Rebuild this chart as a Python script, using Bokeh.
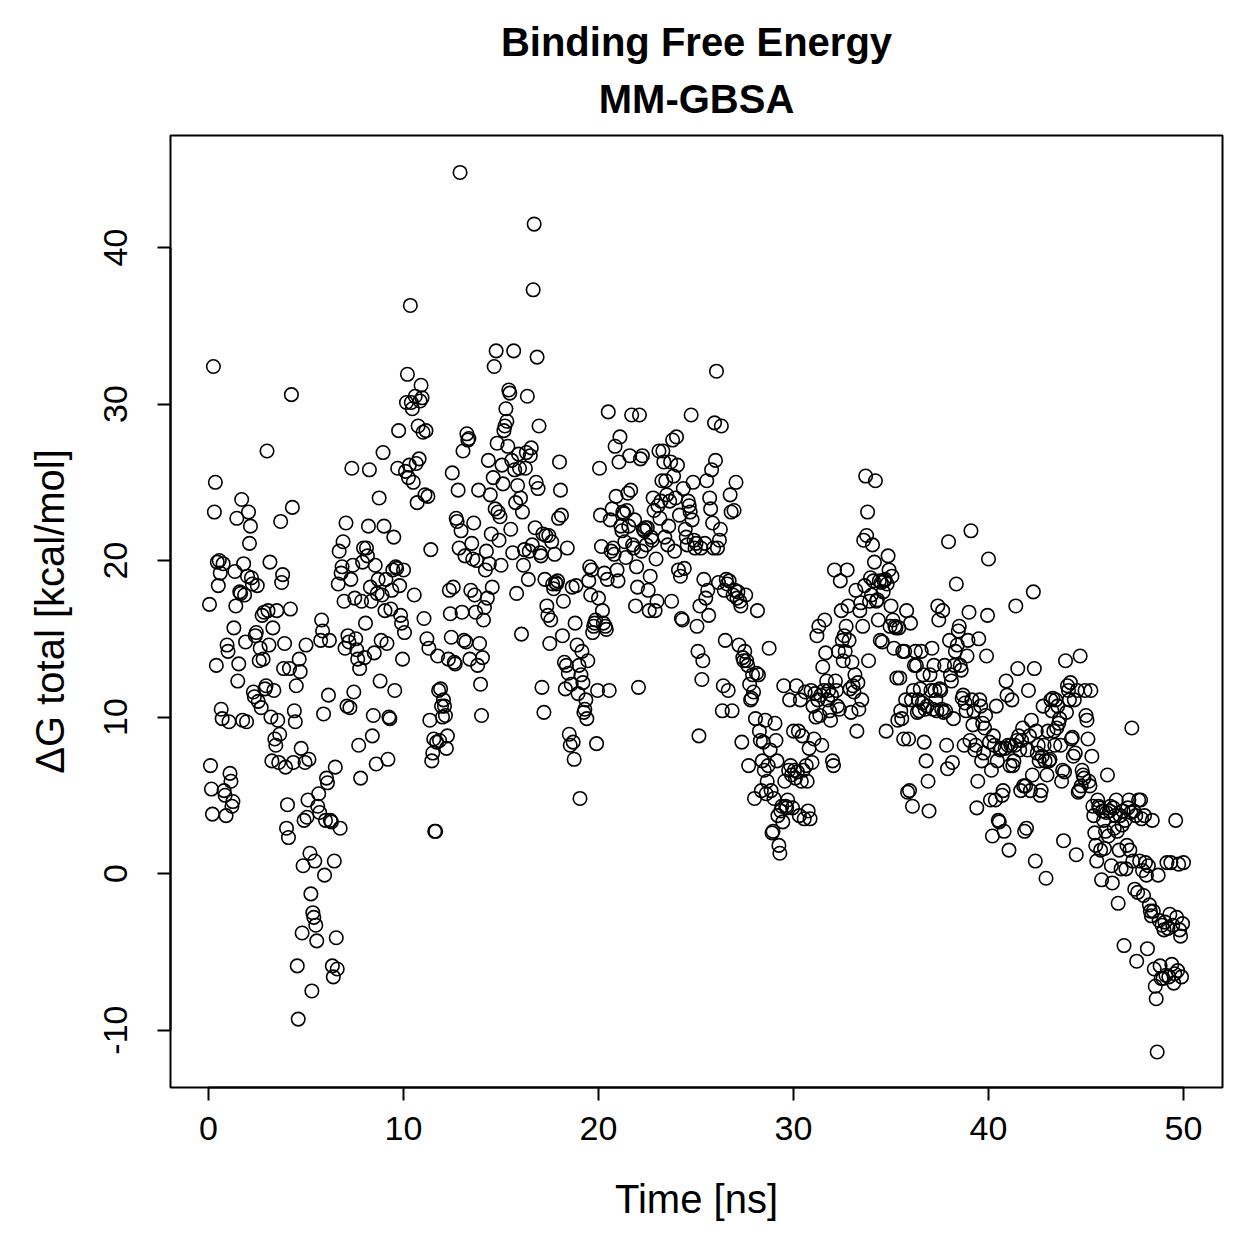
from bokeh.plotting import figure
from bokeh.models import Range1d, FixedTicker, Title
from bokeh.embed import file_html
from bokeh.resources import INLINE

# MM-GBSA binding free energy per frame, grouped by nanosecond (20 frames / ns, 0.05 ns step)
dg_ns = [
    [17.2, 6.9, 5.4, 3.8, 32.4, 23.1, 25.0, 13.3, 19.9, 18.4, 20.0, 19.2, 10.5, 9.9, 19.8, 5.3, 5.0, 3.7, 14.6, 14.2],
    [9.7, 6.4, 5.9, 4.3, 4.6, 15.7, 19.3, 17.1, 22.7, 12.3, 13.4, 18.0, 17.9, 23.9, 9.8, 19.8, 17.8, 14.8, 9.7, 19.0],
    [23.1, 21.1, 22.2, 18.9, 18.5, 11.6, 11.3, 15.2, 15.4, 18.4, 11.0, 13.6, 14.4, 10.6, 16.5, 13.7, 16.7, 11.8, 12.0, 27.0],
    [16.8, 14.6, 19.9, 10.0, 7.2, 15.7, 11.7, 8.6, 8.2, 16.8, 9.8, 7.1, 8.9, 22.5, 18.6, 19.1, 13.1, 14.7, 6.8, 2.9],
    [4.4, 2.3, 13.1, 16.9, 30.6, 23.4, 7.1, 10.4, 9.7, 12.0, -5.9, -9.3, 13.7, 12.9, 8.0, -3.8, 0.5, 3.4, 7.1, 14.6],
    [3.6, 4.7, 7.3, 1.3, -1.3, -7.5, -2.5, -2.8, 0.8, -3.3, -4.3, 4.3, 5.1, 3.9, 14.9, 16.2, 15.5, 10.2, -0.1, 3.4],
    [6.1, 5.8, 11.4, 14.9, 3.4, 3.3, -5.9, -6.6, 0.8, 6.8, -4.1, -6.1, 18.5, 20.6, 2.9, 19.2, 19.6, 21.2, 17.4, 14.4],
    [22.4, 10.7, 15.2, 14.8, 10.6, 18.8, 25.9, 19.7, 11.6, 17.6, 15.0, 14.3, 13.7, 8.2, 13.1, 6.1, 17.4, 19.9, 20.8, 13.8],
    [16.0, 20.8, 20.3, 22.2, 25.8, 18.3, 17.4, 8.8, 10.1, 14.1, 19.7, 7.0, 17.9, 18.8, 24.0, 12.3, 14.9, 17.8, 26.9, 22.2],
    [16.8, 18.8, 14.7, 7.3, 10.0, 9.9, 16.9, 18.1, 19.4, 21.5, 11.7, 19.6, 19.5, 25.9, 28.3, 18.4, 16.5, 16.0, 13.7, 19.4],
    [15.4, 25.7, 30.1, 31.9, 25.3, 26.1, 36.3, 30.1, 29.7, 25.0, 17.8, 30.5, 26.2, 23.7, 28.6, 26.5, 30.2, 31.2, 30.4, 28.2],
    [16.3, 24.2, 28.3, 15.0, 24.1, 14.4, 9.8, 20.7, 7.2, 7.7, 8.6, 2.7, 2.7, 8.4, 13.9, 11.7, 8.5, 11.8, 10.7, 10.0],
    [11.1, 10.7, 10.1, 8.0, 8.8, 13.7, 18.1, 16.6, 15.1, 25.6, 18.3, 13.5, 13.4, 22.7, 22.5, 24.5, 20.8, 44.8, 21.9, 16.7],
    [27.0, 14.9, 20.3, 14.8, 28.1, 27.7, 27.8, 13.7, 18.1, 21.1, 20.1, 22.4, 17.8, 16.7, 20.0, 13.3, 24.5, 14.7, 12.1, 10.1],
    [13.8, 16.2, 17.0, 19.4, 20.6, 17.6, 26.4, 19.8, 24.2, 21.7, 18.3, 25.3, 32.4, 23.3, 33.4, 27.5, 23.1, 21.3, 22.8, 19.7],
    [26.1, 24.9, 28.3, 28.6, 29.7, 28.9, 27.3, 30.9, 30.7, 22.0, 26.4, 20.5, 33.4, 25.8, 23.7, 17.9, 24.8, 26.8, 25.9, 24.0],
    [15.3, 23.1, 19.7, 20.7, 25.9, 26.9, 30.5, 18.8, 20.6, 26.7, 27.2, 21.0, 37.3, 41.5, 22.1, 25.0, 33.0, 24.6, 28.6, 20.5],
    [20.3, 11.9, 21.7, 10.3, 18.8, 21.6, 17.1, 16.5, 21.6, 14.7, 16.2, 21.2, 18.5, 18.2, 20.4, 18.6, 18.5, 18.7, 22.7, 26.3],
    [24.5, 22.9, 15.2, 17.4, 13.5, 11.8, 13.3, 20.8, 12.8, 8.9, 8.2, 12.1, 18.3, 8.4, 7.3, 16.0, 18.4, 14.6, 11.5, 13.3],
    [4.8, 12.7, 14.2, 12.2, 10.3, 10.5, 11.1, 9.9, 13.6, 18.7, 19.6, 17.8, 19.4, 15.4, 15.8, 16.0, 16.2, 8.3, 11.7, 17.6],
    [25.9, 22.9, 20.9, 16.8, 16.0, 19.2, 15.8, 15.6, 18.8, 29.5, 11.7, 22.6, 20.6, 23.3, 20.8, 20.4, 27.3, 24.1, 19.4, 18.7],
    [26.3, 27.9, 22.2, 21.9, 23.1, 23.0, 21.2, 20.2, 23.2, 24.3, 22.2, 26.7, 24.5, 29.3, 21.0, 20.8, 22.6, 17.1, 19.6, 18.3],
    [11.9, 29.3, 26.5, 20.6, 26.7, 22.0, 21.9, 22.1, 21.0, 22.1, 18.1, 16.8, 19.0, 21.5, 21.3, 24.0, 23.2, 16.8, 20.1, 17.4],
    [23.5, 27.0, 22.7, 23.8, 25.1, 27.0, 26.3, 21.5, 25.1, 24.2, 21.0, 22.2, 23.8, 26.3, 17.4, 27.7, 25.4, 20.6, 24.0, 27.9],
    [26.1, 19.4, 22.9, 19.0, 16.3, 16.2, 24.6, 19.5, 22.0, 21.5, 21.0, 23.8, 23.5, 23.1, 29.3, 22.6, 25.0, 21.3, 20.8, 21.1],
    [15.8, 14.2, 8.8, 17.1, 20.8, 12.4, 13.6, 18.8, 21.1, 17.6, 25.1, 18.1, 16.5, 24.0, 23.3, 25.8, 22.4, 20.8, 28.8, 26.4],
    [32.1, 20.8, 18.6, 21.3, 22.0, 28.6, 10.4, 12.0, 18.1, 14.9, 18.8, 18.5, 11.7, 18.7, 24.2, 23.1, 10.4, 17.8, 23.2, 18.1],
    [25.0, 17.6, 18.0, 14.6, 17.4, 17.1, 8.4, 13.8, 13.6, 14.2, 17.8, 13.6, 13.3, 6.9, 12.1, 11.1, 11.2, 12.7, 11.6, 4.8],
    [9.9, 12.8, 16.8, 12.7, 9.1, 8.5, 5.3, 7.2, 8.4, 6.6, 9.8, 5.1, 5.9, 6.9, 14.4, 7.9, 5.3, 2.6, 2.7, 4.8],
    [9.6, 8.5, 7.2, 3.7, 1.8, 1.3, 4.0, 4.3, 3.3, 12.0, 5.9, 4.3, 4.2, 4.7, 6.6, 11.1, 6.9, 6.3, 4.2, 9.1],
    [6.6, 6.1, 12.0, 6.5, 9.1, 3.7, 11.1, 5.9, 8.8, 6.6, 3.5, 11.6, 6.9, 5.9, 4.0, 8.0, 3.5, 11.7, 7.1, 10.7],
    [8.6, 11.5, 10.0, 15.2, 11.1, 15.8, 10.1, 11.4, 8.2, 13.2, 11.7, 16.2, 14.1, 12.3, 11.1, 11.7, 10.4, 9.8, 11.4, 7.2],
    [6.9, 19.4, 12.3, 11.7, 10.7, 14.2, 10.5, 18.7, 16.8, 14.9, 13.6, 15.2, 14.2, 15.8, 19.4, 17.1, 14.9, 11.8, 10.3, 13.5],
    [12.0, 11.6, 12.7, 18.1, 9.1, 12.2, 10.5, 16.8, 17.3, 11.1, 15.8, 21.3, 18.4, 25.4, 21.6, 23.1, 13.6, 17.4, 18.9, 17.8],
    [21.0, 18.7, 19.9, 25.1, 17.4, 17.5, 16.2, 18.7, 14.9, 18.6, 14.8, 18.0, 18.7, 18.8, 9.1, 18.5, 20.3, 19.4, 15.8, 17.1],
    [19.0, 16.2, 14.4, 15.8, 15.7, 12.5, 9.8, 15.7, 12.5, 10.4, 9.9, 14.2, 8.6, 14.2, 11.1, 16.8, 5.2, 8.6, 5.3, 16.0],
    [11.1, 4.3, 11.7, 13.3, 14.2, 13.3, 10.3, 11.1, 10.4, 11.8, 14.2, 10.9, 12.7, 8.4, 10.5, 7.2, 10.7, 5.9, 4.0, 12.7],
    [11.7, 14.4, 10.5, 13.3, 11.7, 11.1, 10.4, 17.1, 16.2, 11.8, 11.7, 10.5, 16.8, 10.3, 13.3, 10.4, 8.2, 6.7, 21.2, 14.9],
    [12.7, 12.3, 7.1, 9.9, 13.3, 14.2, 18.5, 14.6, 15.5, 15.8, 13.3, 13.0, 11.2, 11.4, 8.2, 10.9, 10.4, 13.9, 14.9, 16.7],
    [8.5, 21.9, 11.1, 9.5, 10.4, 7.9, 8.2, 4.2, 5.9, 15.0, 11.1, 10.7, 7.2, 9.6, 7.7, 9.3, 10.1, 13.9, 16.5, 20.1],
    [8.4, 4.7, 6.6, 2.4, 8.8, 8.2, 4.7, 10.7, 7.2, 3.4, 3.3, 7.9, 8.0, 5.0, 5.3, 2.7, 8.0, 12.3, 11.4, 8.2],
    [1.5, 6.9, 8.2, 11.1, 6.9, 7.2, 8.2, 17.1, 8.5, 13.1, 8.8, 7.9, 5.3, 8.5, 9.3, 5.6, 2.7, 5.6, 2.9, 7.9],
    [11.7, 8.8, 5.3, 9.8, 6.3, 18.0, 13.1, 0.8, 9.1, 7.7, 8.2, 7.2, 5.0, 5.3, 7.5, 10.7, 8.2, 7.2, -0.3, 6.3],
    [9.1, 7.2, 7.3, 11.1, 10.4, 11.2, 9.1, 8.2, 11.1, 9.3, 10.7, 9.6, 9.9, 8.2, 5.9, 6.6, 2.1, 6.5, 13.6, 10.3],
    [12.0, 11.7, 11.1, 12.2, 8.6, 8.7, 7.5, 11.1, 7.7, 1.2, 11.7, 5.2, 5.3, 13.9, 5.6, 6.6, 6.3, 6.1, 11.7, 10.1],
    [9.8, 8.6, 5.9, 5.6, 11.7, 7.5, 4.3, 3.7, 2.6, 1.8, 0.8, 4.7, 4.3, 4.2, 1.5, -0.4, 4.0, 3.4, 1.6, 2.7],
    [3.9, 6.3, 2.4, 4.0, 4.3, 0.5, -0.6, 4.2, 2.9, 3.7, 4.7, 2.7, -1.9, 1.5, 3.7, 0.3, 3.1, 4.0, -4.6, 3.4],
    [0.3, 1.8, 4.2, 4.7, 1.5, 3.9, 9.3, 0.8, 4.0, -1.0, 3.7, -5.6, -1.2, 4.7, 0.8, 4.7, 3.5, 0.2, -1.4, 3.7],
    [0.7, -0.1, -4.8, 0.5, -2.0, -2.4, -2.7, 3.4, -2.4, -6.1, -7.2, -8.0, -11.4, -0.1, -3.0, -5.9, -6.7, -3.3, -6.7, -3.6],
    [-3.1, -6.5, 0.7, -3.5, -6.6, -2.6, 0.7, -5.8, -3.3, -7.0, -6.4, 3.4, -2.8, -6.2, 0.6, -3.6, -4.0, -6.6, -3.2, 0.7],
]

frame_step_ns = 0.05
x_ticks = [0, 10, 20, 30, 40, 50]
y_ticks = [-10, 0, 10, 20, 30, 40]
y_tick_labels = {t: str(t) for t in y_ticks}  # plain hyphen for negatives

dg = [v for block in dg_ns for v in block]
time_ns = [(i + 1) * frame_step_ns for i in range(len(dg))]

FONT = "Liberation Sans"

p = figure(
    width=1259, height=1259,
    x_range=Range1d(-1.95, 52.0), y_range=Range1d(-13.67, 47.16),
    output_backend="svg", toolbar_location=None,
    min_border_left=170, min_border_right=37,
    min_border_top=135, min_border_bottom=172,
    background_fill_color="white", border_fill_color="white",
)

p.add_layout(Title(text="MM-GBSA", align="center", text_font=FONT,
                   text_font_size="40px", text_font_style="bold",
                   text_color="black", standoff=30), "above")
p.add_layout(Title(text="Binding Free Energy", align="center", text_font=FONT,
                   text_font_size="40px", text_font_style="bold",
                   text_color="black", standoff=-8), "above")

p.grid.visible = False
p.outline_line_color = "black"
p.outline_line_width = 2
p.outline_line_alpha = 1.0

for ax, ticks in ((p.xaxis, x_ticks), (p.yaxis, y_ticks)):
    ax.ticker = FixedTicker(ticks=ticks)
    ax.bounds = (ticks[0], ticks[-1])
    ax.minor_tick_line_color = None
    ax.major_tick_in = 0
    ax.major_tick_out = 13
    ax.major_tick_line_color = "black"
    ax.major_tick_line_width = 2
    ax.axis_line_color = "black"
    ax.axis_line_width = 2
    ax.major_label_text_font = FONT
    ax.major_label_text_font_size = "34px"
    ax.major_label_text_color = "black"
    ax.axis_label_text_font = FONT
    ax.axis_label_text_font_size = "40px"
    ax.axis_label_text_font_style = "normal"
    ax.axis_label_text_color = "black"

p.xaxis.axis_label = "Time [ns]"
p.xaxis.major_label_standoff = 16
p.xaxis.axis_label_standoff = 34

p.yaxis.axis_label = "ΔG total [kcal/mol]"
p.yaxis.major_label_orientation = "vertical"
p.yaxis.major_label_overrides = y_tick_labels
p.yaxis.major_label_standoff = 30
p.yaxis.axis_label_standoff = 30

p.scatter(time_ns, dg, marker="circle", size=13.5, fill_color=None,
          line_color="black", line_width=1.6)

open("out.html", "w").write(file_html(p, INLINE))
